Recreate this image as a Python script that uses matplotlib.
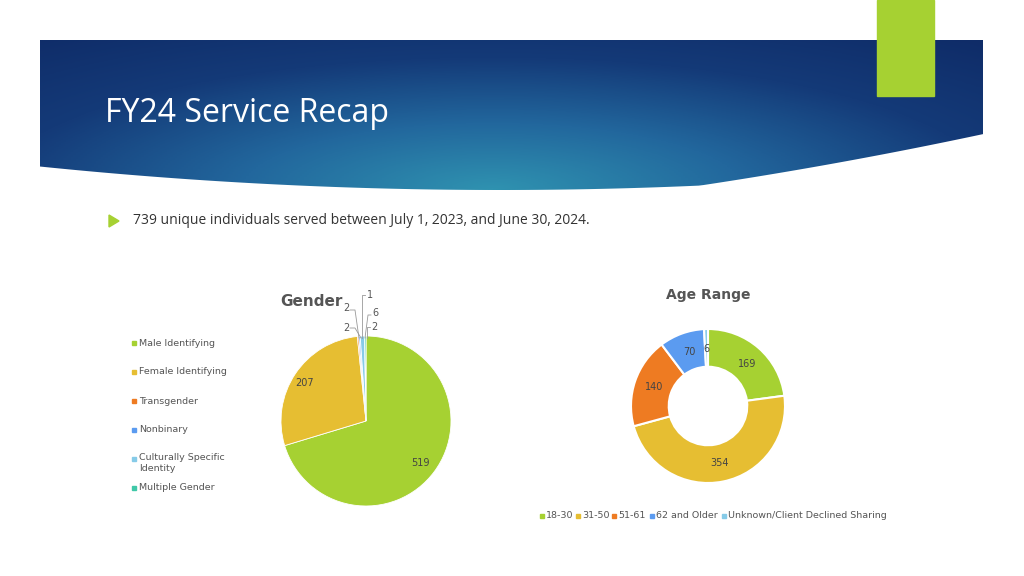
import matplotlib
matplotlib.use("Agg")
import matplotlib.pyplot as plt
import numpy as np
from matplotlib.patches import Rectangle, Polygon
from matplotlib.colors import LinearSegmentedColormap

gender_labels = ["Male Identifying", "Female Identifying", "Transgender", "Nonbinary",
                 "Culturally Specific\nIdentity", "Multiple Gender"]
gender_values = [519, 207, 2, 2, 6, 2]
gender_colors = ["#A6D132", "#E6BE32", "#EE7B22", "#5B9BF0", "#86CBE8", "#3FC8A8"]

age_labels = ["18-30", "31-50", "51-61", "62 and Older", "Unknown/Client Declined Sharing"]
age_values = [169, 354, 140, 70, 6]
age_colors = ["#A6D132", "#E6BE32", "#EE7B22", "#5B9BF0", "#86CBE8"]

W, H = 1024, 576
fig = plt.figure(figsize=(W/100, H/100), dpi=100)
bg = fig.add_axes([0, 0, 1, 1])
bg.set_xlim(0, W); bg.set_ylim(H, 0); bg.axis("off")

xx, yy = np.meshgrid(np.linspace(0, 1, 400), np.linspace(0, 1, 150))
d = np.sqrt((xx - 0.48)**2 + ((yy - 1.0) * 0.6)**2)
cm = LinearSegmentedColormap.from_list("b", ["#2F92B0", "#22679D", "#143A78", "#0F2C68"])
im = bg.imshow(d, cmap=cm, extent=(40, 983, 190, 40), aspect="auto", zorder=1)
xs = np.linspace(40, 983, 200)
top = np.full_like(xs, 40)
curve = 160 + 30 * (1 - ((xs - 500) / 520)**2) - 30 * np.clip((xs-700)/283, 0, 1)
clip = Polygon(np.column_stack([np.r_[xs, xs[::-1]], np.r_[top, curve[::-1]]]), transform=bg.transData)
im.set_clip_path(clip)
bg.add_patch(Rectangle((877, 0), 57, 96, color="#A6D132", zorder=3))
bg.text(105, 113, "FY24 Service Recap", color="white", fontsize=23, fontfamily="Open Sans",
        va="center", zorder=4)
bg.add_patch(Polygon([[109, 215], [109, 227], [119, 221]], color="#A6D132"))
bg.text(133, 221, "739 unique individuals served between July 1, 2023, and June 30, 2024.",
        fontsize=10, fontfamily="Open Sans", va="center", color="#333333")

def pax(cx, cy, r):
    a = fig.add_axes([(cx - r)/W, 1 - (cy + r)/H, 2*r/W, 2*r/H])
    a.patch.set_visible(False)
    return a

ax1 = pax(366, 421, 85)
ax1.pie(gender_values, colors=gender_colors, startangle=90, counterclock=False,
        wedgeprops=dict(edgecolor="white", linewidth=0.6))
ax1.set_xlim(-1, 1); ax1.set_ylim(-1, 1)

ax2 = pax(708, 406, 77)
ax2.pie(age_values, colors=age_colors, startangle=90, counterclock=False,
        wedgeprops=dict(width=0.49, edgecolor="white", linewidth=1.5))
ax2.set_xlim(-1, 1); ax2.set_ylim(-1, 1)

ov = fig.add_axes([0, 0, 1, 1])
ov.set_xlim(0, W); ov.set_ylim(H, 0); ov.axis("off")
ov.text(420, 463, str(gender_values[0]), fontsize=7, color="#444", ha="center", va="center")
ov.text(305, 383, str(gender_values[1]), fontsize=7, color="#444", ha="center", va="center")
ov.text(311, 301, "Gender", fontsize=11, fontweight="bold", color="#555", ha="center", va="center")
small = [(346, 308, "2"), (346, 328, "2"), (370, 295, "1"), (375, 313, "6"), (374, 327, "2")]
for x, y, t in small:
    ov.text(x, y, t, fontsize=7, color="#555", ha="center", va="center")
for pts in [[(350, 310), (355, 310), (359, 338)], [(350, 328), (355, 328), (361, 338)],
            [(365, 295), (362, 295), (362, 338)], [(371, 315), (368, 315), (365, 338)],
            [(370, 327), (367, 327), (367, 338)]]:
    p = np.array(pts); ov.plot(p[:, 0], p[:, 1], color="#999", lw=0.6)
for i, lab in enumerate(gender_labels):
    y = 343 + i * 29
    ov.add_patch(Rectangle((132, y - 2), 4, 4, color=gender_colors[i]))
    ov.text(139, y - 6 if "\n" in lab else y, lab, fontsize=6.8, color="#555",
            va="top" if "\n" in lab else "center", linespacing=1.3)

ov.text(708, 295, "Age Range", fontsize=10, fontweight="bold", color="#555", ha="center", va="center")
for x, y, t in [(747, 364, "169"), (720, 463, "354"), (654, 387, "140"), (689, 352, "70"), (706, 349, "6")]:
    ov.text(x, y, t, fontsize=7, color="#444", ha="center", va="center")
lx = [540, 576, 612, 650, 722]
for i, lab in enumerate(age_labels):
    ov.add_patch(Rectangle((lx[i], 514), 4, 4, color=age_colors[i]))
    ov.text(lx[i] + 6, 516, lab, fontsize=6.8, color="#555", va="center")

fig.savefig("out.png", dpi=100)
